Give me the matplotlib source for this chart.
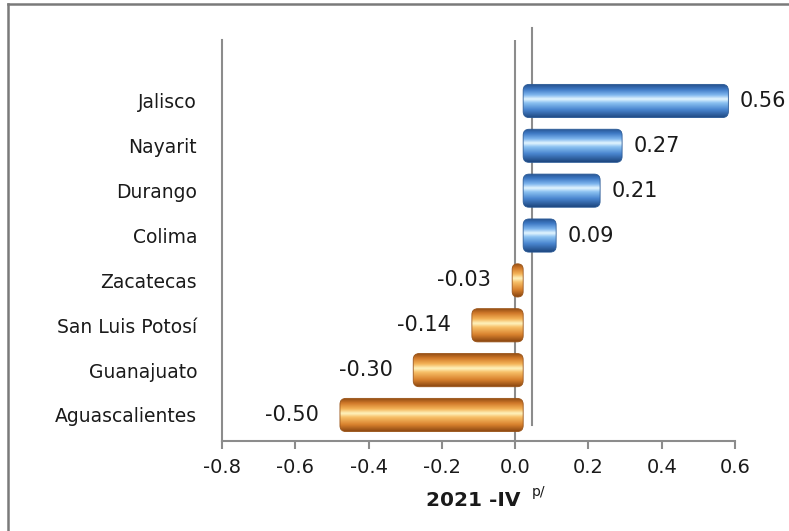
import matplotlib
matplotlib.use("Agg")
import matplotlib.pyplot as plt
import matplotlib.transforms as mtransforms
from matplotlib.patches import FancyBboxPatch
from matplotlib.colors import LinearSegmentedColormap
from matplotlib.lines import Line2D
import numpy as np

# data, bottom to top
states = ["Aguascalientes", "Guanajuato", "San Luis Potosí", "Zacatecas",
          "Colima", "Durango", "Nayarit", "Jalisco"]
values = [-0.50, -0.30, -0.14, -0.03, 0.09, 0.21, 0.27, 0.56]
labels = ["-0.50", "-0.30", "-0.14", "-0.03", "0.09", "0.21", "0.27", "0.56"]
x_ticks = [-0.8, -0.6, -0.4, -0.2, 0.0, 0.2, 0.4, 0.6]

AXIS_GRAY = "#8c8c8c"
TEXT = "#1a1a1a"

# cylinder shading, top edge -> bottom edge
blue_cmap = LinearSegmentedColormap.from_list("blue_cyl", [
    (0.00, "#244f8a"), (0.15, "#3d78c4"), (0.32, "#7fb6ee"),
    (0.44, "#e6f7ff"), (0.55, "#8cc2f2"), (0.75, "#4a86d0"),
    (1.00, "#1d467e")])
orange_cmap = LinearSegmentedColormap.from_list("orange_cyl", [
    (0.00, "#8e4a12"), (0.15, "#d27a2a"), (0.32, "#f4b458"),
    (0.45, "#fff4c0"), (0.56, "#f8c068"), (0.78, "#d9822e"),
    (1.00, "#86430f")])

fig = plt.figure(figsize=(7.89, 5.31), dpi=100)
ax = fig.add_axes([0.2814, 0.1695, 0.6502, 0.7552])

x_scale = 0.6502 * 789 / 1.4        # px per x unit
y_range = (-0.58, 8.36)
y_scale = 0.7552 * 531 / (y_range[1] - y_range[0])
aspect = x_scale / y_scale

# bars are drawn slightly to the right, like the depth of the 3d chart
bar_trans = mtransforms.offset_copy(ax.transData, fig=fig, x=8, y=0, units="dots")

bar_h = 0.74
grad = np.linspace(0, 1, 200).reshape(-1, 1)

for i, v in enumerate(values):
    x0 = min(0, v)
    w = abs(v)
    cmap = blue_cmap if v > 0 else orange_cmap
    edge = "#2a5a96" if v > 0 else "#9a5418"
    r = min(6 / x_scale, w / 2)
    patch = FancyBboxPatch((x0, i - bar_h / 2), w, bar_h,
                           boxstyle="round,pad=0,rounding_size=%f" % r,
                           mutation_aspect=aspect,
                           transform=bar_trans, facecolor="none",
                           edgecolor=edge, linewidth=0.6, zorder=4)
    ax.add_patch(patch)
    img = ax.imshow(grad, cmap=cmap, aspect="auto", origin="upper",
                    extent=[x0, x0 + w, i - bar_h / 2, i + bar_h / 2],
                    transform=bar_trans, interpolation="bicubic", zorder=3)
    img.set_clip_path(patch)

    if v > 0:
        ax.annotate(labels[i], (v, i), xycoords=bar_trans,
                    xytext=(8, 0), textcoords="offset points",
                    ha="left", va="center", fontsize=15, color=TEXT)
    else:
        ax.annotate(labels[i], (v, i), xycoords=bar_trans,
                    xytext=(-15, 0), textcoords="offset points",
                    ha="right", va="center", fontsize=15, color=TEXT)

ax.set_xlim(-0.8, 0.6)
ax.set_ylim(*y_range)

# zero line and back wall line
ax.axvline(0, color=AXIS_GRAY, linewidth=1.5, zorder=2)
back_trans = mtransforms.blended_transform_factory(
    mtransforms.offset_copy(ax.transData, fig=fig, x=17, y=0, units="dots"),
    ax.transAxes)
ax.plot([0, 0], [0.04, 1.03], color=AXIS_GRAY, linewidth=1.5,
        transform=back_trans, clip_on=False, zorder=1)

ax.set_xticks(x_ticks)
ax.set_xticklabels(["%.1f" % t for t in x_ticks], fontsize=14, color=TEXT)
ax.set_yticks(range(len(states)))
ax.set_yticklabels(states, fontsize=13.5, color=TEXT)
ax.tick_params(axis="x", direction="out", length=6, width=1.5,
               color=AXIS_GRAY, pad=6)
ax.tick_params(axis="y", length=0, pad=18)

for side in ["top", "right"]:
    ax.spines[side].set_visible(False)
for side in ["left", "bottom"]:
    ax.spines[side].set_color(AXIS_GRAY)
    ax.spines[side].set_linewidth(1.5)

# x label with superscript
fig.text(0.600, 0.058, "2021 -IV", fontsize=14.5, fontweight="bold",
         ha="center", va="center", color=TEXT)
fig.text(0.682, 0.073, "p/", fontsize=10, ha="center", va="center",
         color=TEXT)

# chart border (top and left only visible in the crop)
fig.add_artist(Line2D([0.0102, 1.0], [0.9925, 0.9925], color="#7a7a7a",
                      linewidth=1.8, transform=fig.transFigure))
fig.add_artist(Line2D([0.0102, 0.0102], [0.0, 0.9925], color="#7a7a7a",
                      linewidth=1.8, transform=fig.transFigure))

fig.savefig("out.png", dpi=100)
